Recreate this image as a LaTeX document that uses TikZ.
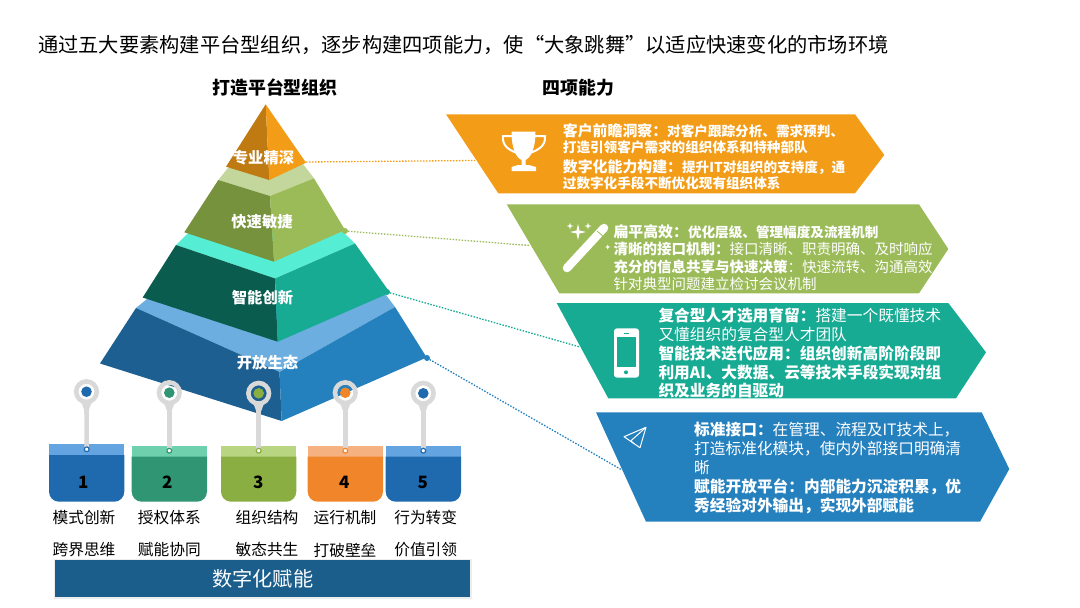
\documentclass[tikz,border=0pt]{standalone}
\usepackage{fontspec}
\setmainfont{Noto Sans CJK SC}
\usepackage{xcolor}
\definecolor{orangeL}{HTML}{BF7A12}
\definecolor{orangeR}{HTML}{F39C17}
\definecolor{greenT}{HTML}{C3D69B}
\definecolor{greenL}{HTML}{76923C}
\definecolor{greenR}{HTML}{9BBB59}
\definecolor{tealT}{HTML}{55EDD4}
\definecolor{tealL}{HTML}{0A5C4E}
\definecolor{tealR}{HTML}{17AB94}
\definecolor{blueT}{HTML}{6BAEDF}
\definecolor{blueL}{HTML}{1C5F90}
\definecolor{blueR}{HTML}{2580BE}
\definecolor{pinGray}{HTML}{D9D9D9}
\definecolor{cupBlue}{HTML}{1F69AF}
\definecolor{cupBlueT}{HTML}{64A4E0}
\definecolor{cupGreen}{HTML}{2F9573}
\definecolor{cupGreenT}{HTML}{6FD0AE}
\definecolor{cupLime}{HTML}{8AAE41}
\definecolor{cupLimeT}{HTML}{B8D681}
\definecolor{cupOrange}{HTML}{F0852A}
\definecolor{cupOrangeT}{HTML}{F5B17F}
\definecolor{barBlue}{HTML}{1B5E8C}
\newcommand{\orangehead}[1]{{\fontsize{14.9}{16}\selectfont\bfseries #1}}

\begin{document}
\begin{tikzpicture}[x=1pt,y=-1pt,
  title/.style={anchor=west,inner sep=0pt,font=\fontsize{20.25}{24}\selectfont},
  heading/.style={inner sep=0pt,font=\fontsize{17.9}{22}\selectfont\bfseries},
  pyrlabel/.style={inner sep=0pt,text=white,font=\fontsize{15.3}{18}\selectfont\bfseries},
  linea/.style={anchor=west,inner sep=0pt,text=white,font=\fontsize{13.6}{16}\selectfont\bfseries},
  lineb/.style={anchor=west,inner sep=0pt,text=white,font=\fontsize{14.5}{17}\selectfont},
  linec/.style={anchor=west,inner sep=0pt,text=white,font=\fontsize{15.7}{18}\selectfont},
  linky/.style={line width=1.3pt,dash pattern=on 1.5pt off 1.5pt},
  stem/.style={line width=4.6pt,pinGray},
  ring/.style={line width=4.6pt,draw=pinGray},
  hole/.style={line width=1.2pt,fill=white},
  number/.style={inner sep=0pt,font=\fontsize{17}{20}\selectfont\bfseries},
  caption/.style={inner sep=0pt,font=\fontsize{15.7}{18}\selectfont}]
\useasboundingbox (0,0) rectangle (1080,608);

\node[title] (title) at (38,45) {通过五大要素构建平台型组织，逐步构建四项能力，使“大象跳舞”以适应快速变化的市场环境};
\node[heading] (headleft) at (275,88) {打造平台型组织};
\node[heading] (headright) at (578.5,88) {四项能力};

\fill[blueT] (136,308) -- (279.5,372) -- (395,307) -- (386,295) -- (147,299) -- cycle;
\fill[blueL] (136,308) -- (100,363.5) -- (281.7,421) -- (279.5,372) -- cycle;
\fill[blueR] (395,307) -- (426.7,357.5) -- (281.7,421) -- (279.5,372) -- cycle;

\fill[tealT] (176,245) -- (275,278.5) -- (355,243.5) -- (342,231) -- (187,234) -- cycle;
\fill[tealL] (176,245) -- (142.7,297.5) -- (277.7,341.7) -- (275,278.5) -- cycle;
\fill[tealR] (355,243.5) -- (390,292.7) -- (277.7,341.7) -- (275,278.5) -- cycle;

\fill[greenT] (218.3,180) -- (270,196) -- (314,178.3) -- (303,164) -- (228,168) -- cycle;
\fill[greenL] (218.3,180) -- (184.3,232.3) -- (274,261.7) -- (270,196) -- cycle;
\fill[greenR] (314,178.3) -- (345,230) -- (274,261.7) -- (270,196) -- cycle;

\fill[orangeL] (265.7,104.3) -- (226,166.7) -- (269.3,180) -- cycle;
\fill[orangeR] (265.7,104.3) -- (306,162.7) -- (269.3,180) -- cycle;

\node[pyrlabel] (level1) at (263.5,157.5) {专业精深};
\node[pyrlabel] (level2) at (262,221.7) {快速敏捷};
\node[pyrlabel] (level3) at (262.5,298) {智能创新};
\node[pyrlabel] (level4) at (267.5,363) {开放生态};

\coordinate (from1) at (306,162);
\coordinate (from2) at (345,231);
\coordinate (from3) at (387,292);
\coordinate (from4) at (427,358);
\coordinate (to1) at (475,160.5);
\coordinate (to2) at (530,245.5);
\coordinate (to3) at (580,347);
\coordinate (to4) at (622,470);
\draw[linky,orangeR] (from1) -- (to1);
\draw[linky,greenR] (from2) -- (to2);
\draw[linky,tealR] (from3) -- (to3);
\draw[linky,blueR] (from4) -- (to4);
\fill[greenR] (from2) circle (3pt);
\fill[tealR] (from3) circle (3pt);
\fill[blueR] (from4) circle (3pt);

\fill[orangeR] (446,114.3) -- (855,114.3) -- (884.3,155) -- (855,193.3) -- (498.3,193.3) -- cycle;
\fill[greenR] (506.7,204.3) -- (919,204.3) -- (948.3,249) -- (919,293.3) -- (559.3,293.3) -- cycle;
\fill[tealR] (556.7,303) -- (948.3,303) -- (986,352.3) -- (956,398.3) -- (608.3,398.3) -- cycle;
\fill[blueR] (596,412.3) -- (981.7,412.3) -- (1009.3,469) -- (980,521.7) -- (646,521.7) -- cycle;

\node[linea] (o1) at (562.7,131) {\orangehead{客户前瞻洞察：}对客户跟踪分析、需求预判、};
\node[linea] (o2) at (562.7,147.7) {打造引领客户需求的组织体系和特种部队};
\node[linea] (o3) at (562.7,166.7) {\orangehead{数字化能力构建：}提升IT对组织的支持度，通};
\node[linea] (o4) at (562.7,183.3) {过数字化手段不断优化现有组织体系};

\node[lineb] (g1) at (613.3,231.7) {\orangehead{扁平高效：}{\fontsize{13.6}{16}\selectfont\bfseries 优化层级、管理幅度及流程机制}};
\node[lineb] (g2) at (613.3,249) {\textbf{清晰的接口机制：}接口清晰、职责明确、及时响应};
\node[lineb] (g3) at (613.3,266.7) {\textbf{充分的信息共享与快速决策}：快速流转、沟通高效};
\node[lineb] (g4) at (613.3,284.3) {针对典型问题建立检讨会议机制};

\node[linec] (t1) at (658.3,315.7) {\textbf{复合型人才选用育留：}搭建一个既懂技术};
\node[linec] (t2) at (658.3,335) {又懂组织的复合型人才团队};
\node[linec] (t3) at (658.3,353.3) {\textbf{智能技术迭代应用：组织创新高阶阶段即}};
\node[linec] (t4) at (658.3,372.3) {\textbf{利用AI、大数据、云等技术手段实现对组}};
\node[linec] (t5) at (658.3,391) {\textbf{织及业务的自驱动}};

\node[linec] (b1) at (694,430) {\textbf{标准接口：}在管理、流程及IT技术上，};
\node[linec] (b2) at (694,449) {打造标准化模块，使内外部接口明确清};
\node[linec] (b3) at (694,467.7) {晰};
\node[linec] (b4) at (694,486.7) {\textbf{赋能开放平台：内部能力沉淀积累，优}};
\node[linec] (b5) at (694,505.7) {\textbf{秀经验对外输出，实现外部赋能}};

\fill[white] (511.5,131.5) -- (535.5,131.5) .. controls (535.5,150) and (530,158) .. (525.5,160) -- (525.5,165) -- (529,165) -- (536,167) -- (536,171) -- (511.5,171) -- (511.5,167) -- (518,165) -- (521.5,165) -- (521.5,160) .. controls (517,158) and (511.5,150) .. (511.5,131.5) -- cycle;
\draw[white,line width=2pt] (512,136) -- (503,136) .. controls (502,146) and (509,150) .. (517,153);
\draw[white,line width=2pt] (535,136) -- (545,136) .. controls (546,146) and (538,150) .. (530,153);

\draw[white,line width=8.5pt,line cap=round] (567,268) -- (604,228);
\draw[greenR,line width=.8pt] (597,231) -- (604,237);
\fill[white] (578,224) -- (579.5,230.5) -- (586,232) -- (579.5,233.5) -- (578,240) -- (576.5,233.5) -- (570,232) -- (576.5,230.5) -- cycle;
\fill[white] (570,222.5) -- (570.8,225.2) -- (573.5,226) -- (570.8,226.8) -- (570,229.5) -- (569.2,226.8) -- (566.5,226) -- (569.2,225.2) -- cycle;
\fill[white] (588,222.5) -- (588.8,225.2) -- (591.5,226) -- (588.8,226.8) -- (588,229.5) -- (587.2,226.8) -- (584.5,226) -- (587.2,225.2) -- cycle;
\fill[white] (607.7,244.5) -- (608.4,246.3) -- (610.2,247) -- (608.4,247.7) -- (607.7,249.5) -- (607,247.7) -- (605.2,247) -- (607,246.3) -- cycle;

\fill[white,rounded corners=3pt] (614,328.3) rectangle (639,377.7);
\fill[tealR] (616.7,336.7) rectangle (636,366.7);
\fill[tealR] (626,372.3) circle (2pt);
\draw[tealR,line width=.8pt] (623.5,333) -- (628.5,333);

\draw[white,line width=1pt,line join=round] (646,427.3) -- (624,436.7) -- (640,447.7) -- cycle;
\draw[white,line width=1pt,line join=round] (646,427.3) -- (631,440.7) -- (634,444);

\fill[cupBlueT] (49,444) rectangle (124.3,455);
\fill[cupBlue] (49,455) -- (124.3,455) [rounded corners=10pt] -- (124.3,501.7) -- (49,501.7) [sharp corners] -- cycle;
\fill[cupGreenT] (131.7,446) rectangle (207,456.7);
\fill[cupGreen] (131.7,456.7) -- (207,456.7) [rounded corners=10pt] -- (207,501.7) -- (131.7,501.7) [sharp corners] -- cycle;
\fill[cupLimeT] (221,446) rectangle (296.3,456.7);
\fill[cupLime] (221,456.7) -- (296.3,456.7) [rounded corners=10pt] -- (296.3,501.7) -- (221,501.7) [sharp corners] -- cycle;
\fill[cupOrangeT] (307.7,446) rectangle (383,456.7);
\fill[cupOrange] (307.7,456.7) -- (383,456.7) [rounded corners=10pt] -- (383,501.7) -- (307.7,501.7) [sharp corners] -- cycle;
\fill[cupBlueT] (385.7,446) rectangle (461,456.7);
\fill[cupBlue] (385.7,456.7) -- (461,456.7) [rounded corners=10pt] -- (461,501.7) -- (385.7,501.7) [sharp corners] -- cycle;

\coordinate (pin1) at (86.5,391.7);
\coordinate (pin2) at (169.3,392.7);
\coordinate (pin3) at (258.7,393.3);
\coordinate (pin4) at (345.3,392.7);
\coordinate (pin5) at (423.3,393.3);
\coordinate (foot1) at (86.7,449.3);
\coordinate (foot2) at (169.3,450.7);
\coordinate (foot3) at (258.7,450.7);
\coordinate (foot4) at (345.3,450.7);
\coordinate (foot5) at (423.3,450.7);

\draw[stem] (pin1) ++(0,10) -- (foot1);
\draw[stem] (pin2) ++(0,10) -- (foot2);
\draw[stem] (pin3) ++(0,10) -- (foot3);
\draw[stem] (pin4) ++(0,10) -- (foot4);
\draw[stem] (pin5) ++(0,10) -- (foot5);
\draw[ring] (pin1) circle (10.3pt);
\draw[ring] (pin2) circle (10.3pt);
\draw[ring] (pin3) circle (10.3pt);
\draw[ring] (pin4) circle (10.3pt);
\draw[ring] (pin5) circle (10.3pt);
\fill[pinGray] (80.5,400) -- (84.2,410) -- (88.8,410) -- (92.5,400) -- cycle;
\fill[pinGray] (163.3,401) -- (167,411) -- (171.6,411) -- (175.3,401) -- cycle;
\fill[pinGray] (252.7,401.6) -- (256.4,411.6) -- (261,411.6) -- (264.7,401.6) -- cycle;
\fill[pinGray] (339.3,401) -- (343,411) -- (347.6,411) -- (351.3,401) -- cycle;
\fill[pinGray] (417.3,401.6) -- (421,411.6) -- (425.6,411.6) -- (429.3,401.6) -- cycle;
\fill[cupBlue] (pin1) circle (5.3pt);
\fill[cupGreen] (pin2) circle (5.3pt);
\fill[cupLime] (pin3) circle (5.3pt);
\fill[cupOrange] (pin4) circle (5.3pt);
\fill[cupBlue] (pin5) circle (5.3pt);
\draw[hole,draw=cupBlue] (foot1) circle (2.4pt);
\draw[hole,draw=cupGreen] (foot2) circle (2.4pt);
\draw[hole,draw=cupLime] (foot3) circle (2.4pt);
\draw[hole,draw=cupOrange] (foot4) circle (2.4pt);
\draw[hole,draw=cupBlue] (foot5) circle (2.4pt);

\node[number] (n1) at (83.3,482.7) {1};
\node[number] (n2) at (167.3,482.7) {2};
\node[number] (n3) at (258.3,482.7) {3};
\node[number] (n4) at (344.3,482.7) {4};
\node[number] (n5) at (422.7,482.7) {5};

\node[caption] (c1) at (84,517.7) {模式创新};
\node[caption] (c2) at (169.3,517.7) {授权体系};
\node[caption] (c3) at (267,517.7) {组织结构};
\node[caption] (c4) at (345,517.7) {运行机制};
\node[caption] (c5) at (425.7,517.7) {行为转变};
\node[caption] (d1) at (84,550) {跨界思维};
\node[caption] (d2) at (169.3,550) {赋能协同};
\node[caption] (d3) at (267,550) {敏态共生};
\node[caption] (d4) at (345,550) {打破壁垒};
\node[caption] (d5) at (425.7,550) {价值引领};

\fill[gray!14] (53.5,558.5) rectangle (472,599);
\node[fill=barBlue,text=white,minimum width=415pt,minimum height=37.3pt,inner sep=0pt,font=\fontsize{20.2}{24}\selectfont] (bar) at (262.8,578.7) {数字化赋能};
\end{tikzpicture}
\end{document}
